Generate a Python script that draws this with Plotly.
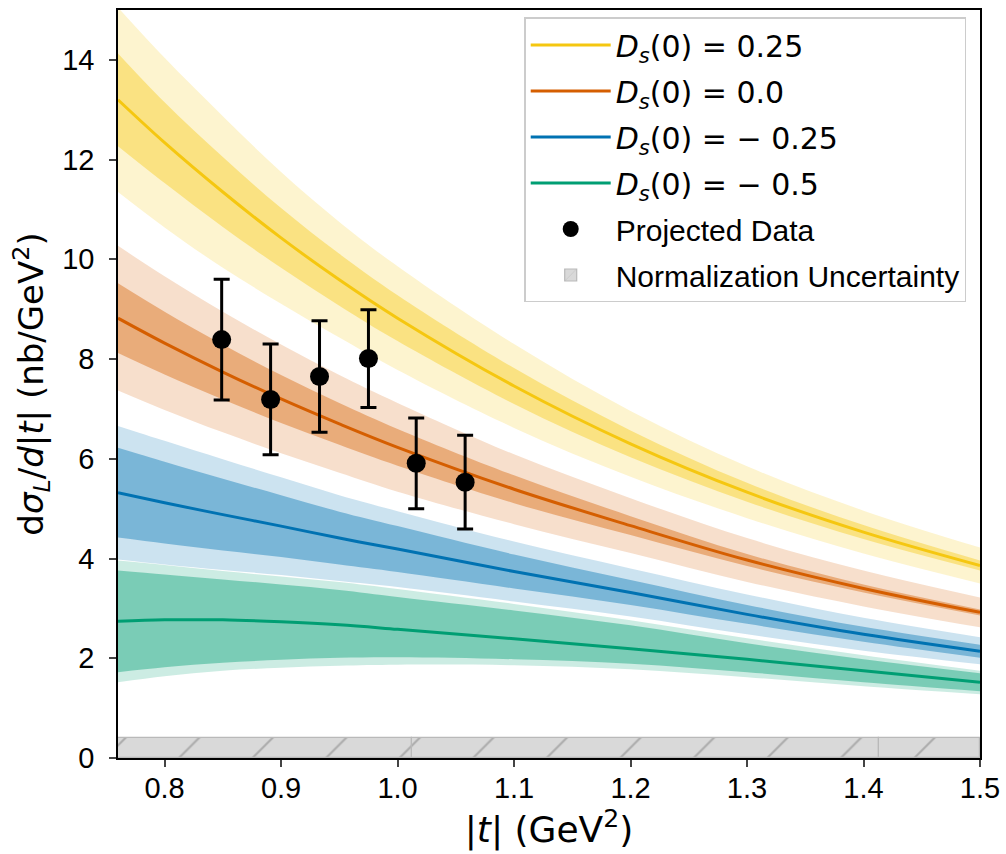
import plotly.graph_objects as go

# ---------------- data ----------------
t_grid = [0.76, 0.8, 0.85, 0.9, 0.95, 1.0, 1.1, 1.2, 1.3, 1.4, 1.5]

ds025_central = [13.20, 12.34, 11.35, 10.43, 9.59, 8.82, 7.46, 6.30, 5.33, 4.53, 3.86]
ds025_dark_lo = [12.27, 11.53, 10.65, 9.83, 9.07, 8.36, 7.10, 6.03, 5.14, 4.39, 3.76]
ds025_dark_hi = [14.13, 13.15, 12.05, 11.03, 10.11, 9.28, 7.82, 6.57, 5.52, 4.67, 3.96]
ds025_light_lo = [11.35, 10.64, 9.83, 9.11, 8.43, 7.78, 6.62, 5.64, 4.81, 4.10, 3.50]
ds025_light_hi = [15.05, 14.04, 12.87, 11.75, 10.75, 9.86, 8.30, 6.96, 5.85, 4.96, 4.22]

ds000_central = [8.82, 8.32, 7.74, 7.20, 6.70, 6.23, 5.39, 4.66, 3.97, 3.40, 2.92]
ds000_dark_lo = [8.12, 7.69, 7.19, 6.72, 6.28, 5.86, 5.11, 4.47, 3.85, 3.32, 2.86]
ds000_dark_hi = [9.52, 8.95, 8.29, 7.68, 7.12, 6.60, 5.67, 4.85, 4.09, 3.48, 2.98]
ds000_light_lo = [7.37, 6.98, 6.53, 6.11, 5.72, 5.34, 4.69, 4.11, 3.53, 3.04, 2.62]
ds000_light_hi = [10.27, 9.66, 8.95, 8.29, 7.68, 7.12, 6.09, 5.21, 4.41, 3.76, 3.22]

dsm025_central = [5.32, 5.12, 4.88, 4.65, 4.41, 4.19, 3.74, 3.32, 2.88, 2.48, 2.14]
dsm025_dark_lo = [4.42, 4.30, 4.16, 4.03, 3.88, 3.73, 3.40, 3.07, 2.69, 2.33, 2.01]
dsm025_dark_hi = [6.22, 5.94, 5.60, 5.27, 4.94, 4.65, 4.08, 3.57, 3.07, 2.63, 2.27]
dsm025_light_lo = [3.98, 3.88, 3.77, 3.67, 3.55, 3.43, 3.14, 2.84, 2.48, 2.15, 1.88]
dsm025_light_hi = [6.66, 6.36, 5.99, 5.63, 5.27, 4.95, 4.34, 3.80, 3.28, 2.81, 2.42]

dsm05_central = [2.74, 2.77, 2.77, 2.73, 2.67, 2.58, 2.39, 2.19, 1.98, 1.75, 1.52]
dsm05_dark_lo = [1.72, 1.82, 1.91, 1.97, 2.01, 2.02, 1.98, 1.89, 1.72, 1.52, 1.34]
dsm05_dark_hi = [3.76, 3.68, 3.58, 3.48, 3.37, 3.23, 2.96, 2.66, 2.30, 1.98, 1.70]
dsm05_light_lo = [1.52, 1.64, 1.75, 1.81, 1.85, 1.87, 1.86, 1.78, 1.62, 1.44, 1.28]
dsm05_light_hi = [3.96, 3.87, 3.75, 3.64, 3.53, 3.39, 3.09, 2.76, 2.40, 2.06, 1.75]

data_t = [0.849, 0.891, 0.933, 0.975, 1.016, 1.058]
data_y = [8.39, 7.19, 7.65, 8.01, 5.91, 5.53]
data_err = [1.21, 1.11, 1.12, 0.98, 0.91, 0.94]

norm_edges = [0.76, 1.012, 1.413, 1.5]
norm_height = 0.4

x_ticks = [0.8, 0.9, 1.0, 1.1, 1.2, 1.3, 1.4, 1.5]
x_ticklabels = ["0.8", "0.9", "1.0", "1.1", "1.2", "1.3", "1.4", "1.5"]
y_ticks = [0, 2, 4, 6, 8, 10, 12, 14]

MATH = "DejaVu Sans"
TEXT = "Liberation Sans"


def mlabel(value):
    return (f"<span style=\"font-family:'{MATH}'\"><i>D</i><sub><i>s</i></sub>(0) = {value}</span>")


series = [
    (mlabel("0.25"), (245, 199, 16),
     ds025_central, ds025_dark_lo, ds025_dark_hi, ds025_light_lo, ds025_light_hi),
    (mlabel("0.0"), (213, 94, 0),
     ds000_central, ds000_dark_lo, ds000_dark_hi, ds000_light_lo, ds000_light_hi),
    (mlabel("− 0.25"), (0, 114, 178),
     dsm025_central, dsm025_dark_lo, dsm025_dark_hi, dsm025_light_lo, dsm025_light_hi),
    (mlabel("− 0.5"), (0, 158, 115),
     dsm05_central, dsm05_dark_lo, dsm05_dark_hi, dsm05_light_lo, dsm05_light_hi),
]

fig = go.Figure()


def band(lo, hi, rgba):
    fig.add_trace(go.Scatter(x=t_grid, y=lo, mode="lines", line=dict(width=0, shape="spline"),
                             showlegend=False, hoverinfo="skip"))
    fig.add_trace(go.Scatter(x=t_grid, y=hi, mode="lines", line=dict(width=0, shape="spline"),
                             fill="tonexty", fillcolor=rgba, showlegend=False, hoverinfo="skip"))


for name, (r, g, b), c, dlo, dhi, llo, lhi in series:
    band(llo, lhi, f"rgba({r},{g},{b},0.2)")
    band(dlo, dhi, f"rgba({r},{g},{b},0.4)")

for i, (name, (r, g, b), c, dlo, dhi, llo, lhi) in enumerate(series):
    fig.add_trace(go.Scatter(x=t_grid, y=c, mode="lines", name=name,
                             line=dict(color=f"rgb({r},{g},{b})", width=3, shape="spline"),
                             legendgroup=f"g{i}"))

fig.add_trace(go.Scatter(
    x=data_t, y=data_y, mode="markers", name="Projected Data",
    marker=dict(color="black", size=19),
    error_y=dict(type="data", array=data_err, color="black", thickness=3, width=8),
    legendgroup="g4"))

# normalization uncertainty band (bar segments)
seg_centers = [(norm_edges[k] + norm_edges[k + 1]) / 2 for k in range(len(norm_edges) - 1)]
seg_widths = [norm_edges[k + 1] - norm_edges[k] for k in range(len(norm_edges) - 1)]
fig.add_trace(go.Bar(
    x=seg_centers, y=[norm_height] * len(seg_centers), width=seg_widths,
    name="Normalization Uncertainty", legendgroup="g5",
    marker=dict(color="rgb(217,217,217)",
                line=dict(color="rgb(185,185,185)", width=1.2),
                pattern=dict(shape="/", bgcolor="rgb(217,217,217)", fgcolor="rgb(172,172,172)",
                             size=52, solidity=0.04, fillmode="replace")),
    hoverinfo="skip"))

fig.update_layout(
    width=1006, height=854,
    margin=dict(l=118, r=26, t=10, b=96, autoexpand=False),
    paper_bgcolor="white", plot_bgcolor="white",
    font=dict(family=TEXT, size=29, color="black"),
    bargap=0,
    legend=dict(x=0.984, y=0.99, xanchor="right", yanchor="top",
                bgcolor="rgba(255,255,255,0.85)", bordercolor="#cccccc", borderwidth=1.5,
                font=dict(family=TEXT, size=30), traceorder="grouped", tracegroupgap=4,
                itemwidth=80),
)
fig.update_xaxes(range=[0.76, 1.5], tickvals=x_ticks, ticktext=x_ticklabels, automargin=False,
                 showgrid=False, zeroline=False, showline=True, mirror=True,
                 linecolor="black", linewidth=1.5, ticks="outside", ticklen=7, tickwidth=1.5,
                 tickfont=dict(family=TEXT, size=29), ticklabelstandoff=-4,
                 title=dict(text="|<i>t</i>| (GeV<sup>2</sup>)", font=dict(family=MATH, size=36),
                            standoff=4))
fig.update_yaxes(range=[0, 15], tickvals=y_ticks, automargin=False,
                 showgrid=False, zeroline=False, showline=True, mirror=True,
                 linecolor="black", linewidth=1.5, ticks="outside", ticklen=7, tickwidth=1.5,
                 tickfont=dict(family=TEXT, size=29), ticklabelstandoff=9,
                 title=dict(text="d<i>σ</i><sub><i>L</i></sub>/<i>d</i>|<i>t</i>| (nb/GeV<sup>2</sup>)",
                            font=dict(family=MATH, size=34), standoff=8))

fig.write_html("out.html", config={"displayModeBar": False},
               post_script="document.body.style.margin='0';document.body.style.overflow='hidden';")
